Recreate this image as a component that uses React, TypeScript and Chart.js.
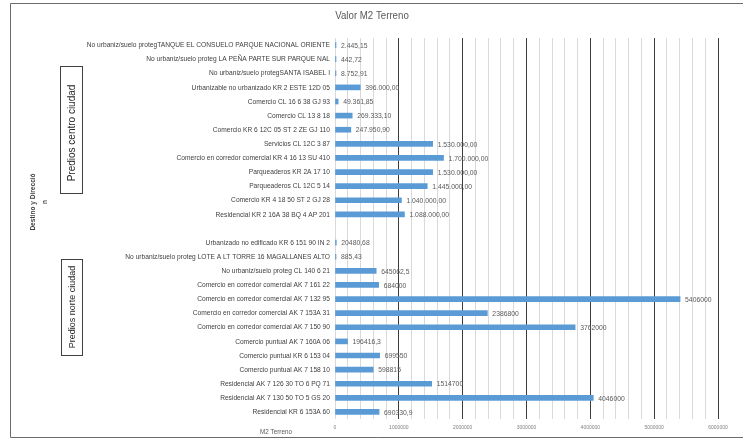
import React, { useEffect, useRef } from "react";
import { Chart, registerables } from "chart.js";
Chart.register(...registerables);

const chartTitle = "Valor M2 Terreno";
const yTitleLines = ["Destino y Direcció", "n"];
const xTitle = "M2 Terreno";
const groupLabels = ["Predios centro ciudad", "Predios norte ciudad"];

const categories = [
  "No urbaniz/suelo protegTANQUE EL CONSUELO PARQUE NACIONAL ORIENTE",
  "No urbaniz/suelo proteg LA PEÑA PARTE SUR PARQUE NAL",
  "No urbaniz/suelo protegSANTA ISABEL I",
  "Urbanizable no urbanizado KR 2 ESTE 12D 05",
  "Comercio CL 16 6 38 GJ 93",
  "Comercio CL 13 8 18",
  "Comercio KR 6 12C 05 ST 2 ZE GJ 110",
  "Servicios CL 12C 3 87",
  "Comercio en corredor comercial KR 4 16 13 SU 410",
  "Parqueaderos KR 2A 17 10",
  "Parqueaderos CL 12C 5 14",
  "Comercio KR 4 18 50 ST 2 GJ 28",
  "Residencial KR 2 16A 38 BQ 4 AP 201",
  "",
  "Urbanizado no edificado KR 6 151 90 IN 2",
  "No urbaniz/suelo proteg LOTE A LT TORRE 16 MAGALLANES ALTO",
  "No urbaniz/suelo proteg CL 140 6 21",
  "Comercio en corredor comercial AK 7 161 22",
  "Comercio en corredor comercial AK 7 132 95",
  "Comercio en corredor comercial AK 7 153A 31",
  "Comercio en corredor comercial AK 7 150 90",
  "Comercio puntual AK 7 160A 06",
  "Comercio puntual KR 6 153 04",
  "Comercio puntual AK 7 158 10",
  "Residencial AK 7 126 30 TO 6 PQ 71",
  "Residencial AK 7 130 50 TO 5 GS 20",
  "Residencial KR 6 153A 60",
];

const values = [
  2445.15, 442.72, 8752.91, 396000, 49361.85, 269333.1, 247950.9,
  1530000, 1700000, 1530000, 1445000, 1040000, 1088000,
  null,
  20480.68, 885.43, 645062.5, 684000, 5406000, 2386800, 3762000,
  196416.3, 699550, 598815, 1514700, 4046000, 690330.9,
];

const valueLabels = [
  "2.445,15", "442,72", "8.752,91", "396.000,00", "49.361,85", "269.333,10", "247.950,90",
  "1.530.000,00", "1.700.000,00", "1.530.000,00", "1.445.000,00", "1.040.000,00", "1.088.000,00",
  "",
  "20480,68", "885,43", "645062,5", "684000", "5406000", "2386800", "3762000",
  "196416,3", "699550", "598815", "1514700", "4046000", "690330,9",
];

const xMin = 0;
const xMax = 6000000;
const xMinorStep = 200000;
const xMajorStep = 1000000;

const FONT = "'Liberation Sans', Arial, sans-serif";

function txt(ctx: any, s: string, x: number, y: number, align: string, sx: number) {
  ctx.save();
  ctx.translate(x, y);
  ctx.scale(sx, 1);
  ctx.textAlign = align;
  ctx.fillText(s, 0, 0);
  ctx.restore();
}

const decor = {
  id: "decor",
  beforeDraw(chart: any) {
    const ctx = chart.ctx;
    ctx.save();
    ctx.fillStyle = "#ffffff";
    ctx.fillRect(0, 0, chart.width, chart.height);
    ctx.strokeStyle = "#6b6b6b";
    ctx.lineWidth = 1;
    ctx.beginPath();
    ctx.moveTo(chart.width + 2, 3.5);
    ctx.lineTo(10.5, 3.5);
    ctx.lineTo(10.5, 437.5);
    ctx.lineTo(chart.width + 2, 437.5);
    ctx.stroke();
    ctx.restore();
  },
  afterDraw(chart: any) {
    const ctx = chart.ctx;
    ctx.save();
    ctx.textBaseline = "middle";
    // title
    ctx.fillStyle = "#595959";
    ctx.font = `11px ${FONT}`;
    txt(ctx, chartTitle, 372, 16, "center", 0.88);
    // x title
    ctx.font = `7px ${FONT}`;
    txt(ctx, xTitle, 276, 432, "center", 0.9);
    // y title
    ctx.fillStyle = "#404040";
    ctx.font = `bold 8px ${FONT}`;
    ctx.save();
    ctx.translate(33, 202);
    ctx.rotate(-Math.PI / 2);
    txt(ctx, yTitleLines[0], 0, 0, "center", 0.82);
    txt(ctx, yTitleLines[1], 0, 12, "center", 0.82);
    ctx.restore();
    // group boxes
    const boxes = [
      { x: 60.5, y: 66.5, w: 22, h: 127, t: groupLabels[0], f: 10, c: 133 },
      { x: 61.5, y: 259.5, w: 21, h: 96, t: groupLabels[1], f: 9, c: 307 },
    ];
    for (const b of boxes) {
      ctx.strokeStyle = "#404040";
      ctx.lineWidth = 1;
      ctx.strokeRect(b.x, b.y, b.w, b.h);
      ctx.save();
      ctx.font = `${b.f}px ${FONT}`;
      ctx.translate(b.x + b.w / 2 + 0.5, b.c);
      ctx.rotate(-Math.PI / 2);
      ctx.fillStyle = "#262626";
      ctx.textAlign = "center";
      ctx.fillText(b.t, 0, 0);
      ctx.restore();
    }
    // category labels
    const yScale = chart.scales.y;
    ctx.fillStyle = "#404040";
    ctx.font = `8px ${FONT}`;
    categories.forEach((c, i) => {
      if (!c) return;
      txt(ctx, c, chart.chartArea.left - 5, yScale.getPixelForValue(i), "right", 0.83);
    });
    // data labels
    const meta = chart.getDatasetMeta(0);
    ctx.fillStyle = "#595959";
    ctx.font = `8px ${FONT}`;
    meta.data.forEach((bar: any, i: number) => {
      const lbl = valueLabels[i];
      if (!lbl || values[i] == null) return;
      txt(ctx, lbl, bar.x + 5, bar.y + 0.5, "left", 0.85);
    });
    ctx.restore();
  },
};

export default function App() {
  const ref = useRef<HTMLCanvasElement>(null);
  useEffect(() => {
    document.body.style.margin = "0";
    const chart = new Chart(ref.current as HTMLCanvasElement, {
      type: "bar",
      data: {
        labels: categories,
        datasets: [
          {
            data: values as any,
            backgroundColor: "#5B9BD5",
            barThickness: 5,
            minBarLength: 1,
          },
        ],
      },
      options: {
        indexAxis: "y",
        responsive: false,
        animation: false,
        layout: { padding: { top: 38, right: 25, bottom: 0, left: 0 } },
        plugins: { legend: { display: false }, tooltip: { enabled: false }, title: { display: false } },
        scales: {
          x: {
            type: "linear",
            min: xMin,
            max: xMax,
            afterFit: (s: any) => { s.height = 21; },
            border: { display: false },
            grid: {
              drawTicks: false,
              color: (c: any) => {
                const v = c.tick ? c.tick.value : 0;
                return v !== 0 && v % xMajorStep === 0 ? "#3c3c3c" : "#d9d9d9";
              },
              lineWidth: 1,
            },
            ticks: {
              stepSize: xMinorStep,
              autoSkip: false,
              maxRotation: 0,
              padding: 6,
              color: "#7f7f7f",
              font: { family: FONT, size: 5 },
              callback: (v: any) => (Number(v) % xMajorStep === 0 ? String(v) : ""),
            },
          },
          y: {
            afterFit: (s: any) => { s.width = 335; },
            border: { display: false },
            grid: { display: false },
            ticks: { display: false, autoSkip: false },
          },
        },
      },
      plugins: [decor],
    });
    return () => chart.destroy();
  }, []);
  return (
    <div style={{ position: "absolute", left: 0, top: 0, width: 743, height: 440 }}>
      <canvas ref={ref} width={743} height={440} style={{ display: "block" }} />
    </div>
  );
}
